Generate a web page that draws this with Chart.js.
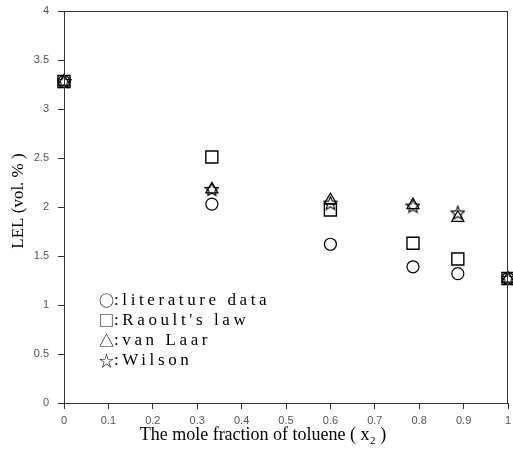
<!DOCTYPE html>
<html>
<head>
<meta charset="utf-8">
<script src="https://cdn.jsdelivr.net/npm/chart.js@4.4.1/dist/chart.umd.min.js"></script>
<style>
  html, body { margin: 0; padding: 0; background: #fff; }
  #box { width: 513px; height: 463px; }
</style>
</head>
<body>
<div id="box"><canvas id="graficoLEL"></canvas></div>
<script>
// Dados
const fracaoTolueno = [0, 0.333, 0.6, 0.786, 0.887, 1];
const literatura = [3.28, 2.03, 1.62, 1.39, 1.32, 1.27];
const raoult = [3.28, 2.51, 1.97, 1.63, 1.47, 1.27];
const vanLaar = [3.28, 2.18, 2.07, 2.02, 1.89, 1.27];
const wilson = [3.28, 2.18, 2.04, 2.01, 1.94, 1.27];

const rotulosX = ['0', '0.1', '0.2', '0.3', '0.4', '0.5', '0.6', '0.7', '0.8', '0.9', '1'];
const rotulosY = ['0', '0.5', '1', '1.5', '2', '2.5', '3', '3.5', '4'];

const legendaSimbolos = ['○', '□', '△', '☆'];
const legendaTextos = [':literature data', ":Raoult's law", ':van Laar', ':Wilson'];

const pontos = (ys) => fracaoTolueno.map((x, i) => ({ x: x, y: ys[i] }));

// estrela de cinco pontas (o Chart.js não tem essa forma)
function criarEstrela() {
    const c = document.createElement('canvas');
    c.width = 15; c.height = 15;
    const g = c.getContext('2d');
    g.beginPath();
    for (let i = 0; i < 10; i++) {
        const r = i % 2 === 0 ? 7 : 3.2;
        const a = -Math.PI / 2 + i * Math.PI / 5;
        const px = 7.5 + r * Math.cos(a);
        const py = 8 + r * Math.sin(a);
        if (i === 0) g.moveTo(px, py); else g.lineTo(px, py);
    }
    g.closePath();
    g.strokeStyle = '#000';
    g.lineWidth = 1.1;
    g.stroke();
    return c;
}
const estrela = criarEstrela();

const textos = {
    id: 'textos',
    afterDraw(chart) {
        const ctx = chart.ctx;
        const area = chart.chartArea;
        ctx.save();
        // moldura
        ctx.strokeStyle = '#333';
        ctx.lineWidth = 1;
        ctx.strokeRect(Math.round(area.left) + 0.5, Math.round(area.top) + 0.5,
            Math.round(area.right - area.left) - 1, Math.round(area.bottom - area.top));

        ctx.fillStyle = '#000';
        // título do eixo x
        ctx.font = '18px "Liberation Serif", serif';
        ctx.textAlign = 'center';
        ctx.textBaseline = 'middle';
        ctx.fillText('The mole fraction of toluene ( x₂ )', 263, 435);
        // título do eixo y
        ctx.save();
        ctx.font = '17px "Liberation Serif", serif';
        ctx.translate(19, 201);
        ctx.rotate(-Math.PI / 2);
        ctx.fillText('LEL (vol. % )', 0, 0);
        ctx.restore();

        // legenda
        ctx.textAlign = 'left';
        for (let i = 0; i < legendaTextos.length; i++) {
            const y = 300 + i * 20;
            ctx.font = '15px "Noto Sans CJK TC", sans-serif';
            ctx.letterSpacing = '0px';
            ctx.fillText(legendaSimbolos[i], 99, y);
            ctx.font = '17px "Liberation Serif", serif';
            ctx.letterSpacing = '3.6px';
            ctx.fillText(legendaTextos[i], 114, y + 1);
        }
        ctx.restore();
    }
};

const ctx = document.getElementById('graficoLEL').getContext('2d');
const grafico = new Chart(ctx, {
    type: 'scatter',
    data: {
        datasets: [{
            label: 'literature data',
            data: pontos(literatura),
            pointStyle: 'circle',
            pointRadius: 6,
            borderColor: '#000',
            backgroundColor: 'rgba(0,0,0,0)',
            borderWidth: 1.2,
            clip: false
        }, {
            label: "Raoult's law",
            data: pontos(raoult),
            pointStyle: 'rect',
            pointRadius: 8.5,
            borderColor: '#000',
            backgroundColor: 'rgba(0,0,0,0)',
            borderWidth: 1.4,
            clip: false
        }, {
            label: 'van Laar',
            data: pontos(vanLaar),
            pointStyle: 'triangle',
            pointRadius: 7,
            borderColor: '#000',
            backgroundColor: 'rgba(0,0,0,0)',
            borderWidth: 1.2,
            clip: false
        }, {
            label: 'Wilson',
            data: pontos(wilson),
            pointStyle: estrela,
            borderColor: '#000',
            backgroundColor: 'rgba(0,0,0,0)',
            clip: false
        }]
    },
    options: {
        responsive: true,
        maintainAspectRatio: false,
        animation: false,
        layout: {
            autoPadding: false,
            padding: { left: 0, right: 5, top: 11, bottom: 0 }
        },
        plugins: {
            legend: { display: false },
            tooltip: { enabled: false }
        },
        scales: {
            x: {
                type: 'linear',
                min: 0,
                max: 1,
                afterFit: function(scale) {
                    scale.height = 60;
                    scale.paddingLeft = 0;
                    scale.paddingRight = 0;
                },
                ticks: {
                    stepSize: 0.1,
                    padding: 5,
                    maxRotation: 0,
                    color: '#555',
                    font: { family: '"Liberation Sans", Arial, sans-serif', size: 11 },
                    callback: function(value) {
                        return rotulosX[Math.round(value * 10)];
                    }
                },
                grid: {
                    drawOnChartArea: false,
                    drawTicks: true,
                    tickLength: 6,
                    color: '#333'
                },
                border: { display: true, color: '#333' }
            },
            y: {
                min: 0,
                max: 4,
                afterFit: function(scale) {
                    scale.width = 64;
                    scale.paddingTop = 0;
                    scale.paddingBottom = 0;
                },
                ticks: {
                    stepSize: 0.5,
                    padding: 9,
                    color: '#555',
                    font: { family: '"Liberation Sans", Arial, sans-serif', size: 11 },
                    callback: function(value) {
                        return rotulosY[Math.round(value * 2)];
                    }
                },
                grid: {
                    drawOnChartArea: false,
                    drawTicks: true,
                    tickLength: 6,
                    color: '#333'
                },
                border: { display: true, color: '#333' }
            }
        }
    },
    plugins: [textos]
});
</script>
</body>
</html>
